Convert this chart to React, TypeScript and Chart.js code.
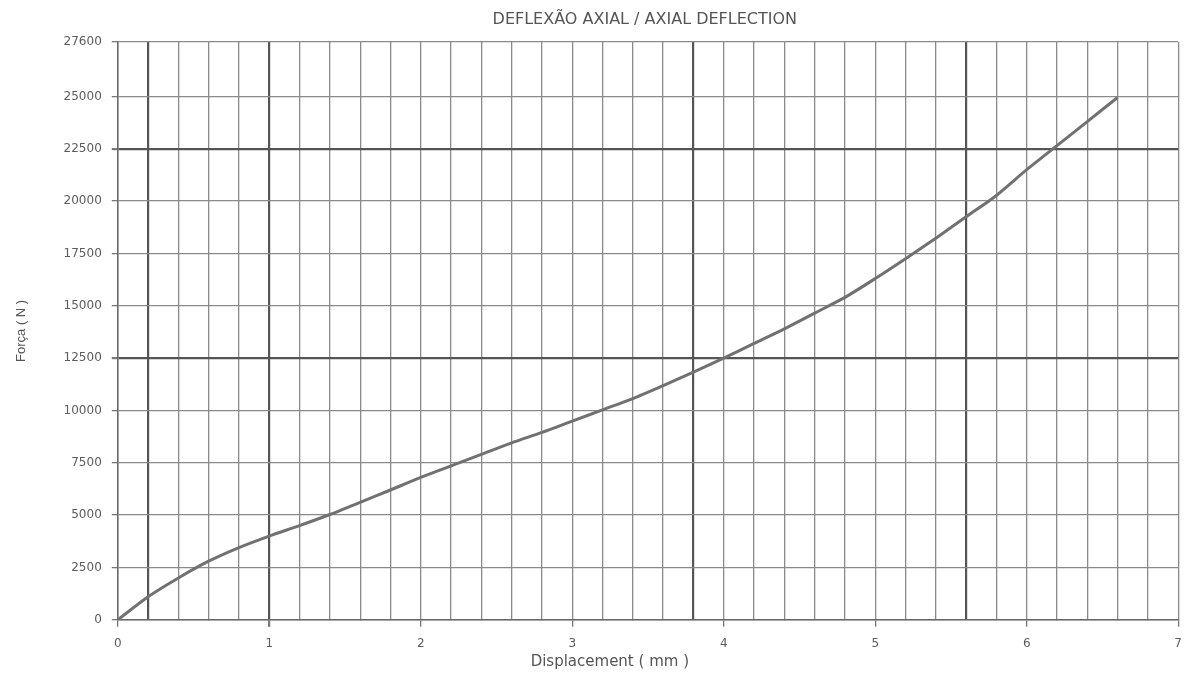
import React, { useEffect, useRef } from "react";
import { Chart, registerables } from "chart.js";

Chart.register(...registerables);

const displacement = [0, 0.2, 0.4, 0.6, 0.8, 1.0, 1.2, 1.4, 1.6, 1.8, 2.0, 2.2, 2.4, 2.6, 2.8, 3.0, 3.2, 3.4, 3.6, 3.8, 4.0, 4.2, 4.4, 4.6, 4.8, 5.0, 5.2, 5.4, 5.6, 5.8, 6.0, 6.2, 6.4, 6.6];
const force = [0, 1100, 2000, 2800, 3450, 4000, 4500, 5030, 5610, 6200, 6800, 7350, 7900, 8450, 8950, 9490, 10030, 10570, 11190, 11830, 12500, 13200, 13900, 14650, 15400, 16300, 17250, 18230, 19250, 20270, 21500, 22650, 23800, 24950];
const yTicks = [0, 2500, 5000, 7500, 10000, 12500, 15000, 17500, 20000, 22500, 25000, 27600];
const xDarkLines = [0.2, 1, 3.8, 5.6];
const yDarkLines = [12500, 22500];

const TITLE = "DEFLEXÃO AXIAL / AXIAL DEFLECTION";
const X_TITLE = "Displacement ( mm )";
const WIDE = "'DejaVu Sans', Verdana, sans-serif";
const ARIAL = "'Liberation Sans', Arial, sans-serif";

const near = (a: number, b: number) => Math.abs(a - b) < 1e-6;

const titlePlugin = {
  id: "areaTitle",
  afterDraw(chart: any) {
    const { ctx, chartArea } = chart;
    const w = chartArea.right - chartArea.left;
    ctx.save();
    ctx.fillStyle = "#555";
    ctx.textAlign = "center";
    ctx.textBaseline = "middle";
    ctx.font = `16px ${WIDE}`;
    ctx.fillText(TITLE, chartArea.left + w * 0.497, 12);
    ctx.font = `15px ${WIDE}`;
    ctx.fillText(X_TITLE, chartArea.left + w * 0.464, chart.height - 15);
    ctx.restore();
  },
};

export default function App() {
  const ref = useRef<HTMLCanvasElement | null>(null);
  useEffect(() => {
    if (!ref.current) return;
    const chart = new Chart(ref.current, {
      type: "line",
      data: {
        datasets: [
          {
            data: displacement.map((x, i) => ({ x, y: force[i] })),
            borderColor: "#717171",
            borderWidth: 3,
            pointRadius: 0,
            tension: 0.25,
            fill: false,
          },
        ],
      },
      options: {
        animation: false,
        responsive: true,
        maintainAspectRatio: false,
        layout: { padding: { top: 34, right: 12, left: 6, bottom: 0 } },
        plugins: { legend: { display: false }, tooltip: { enabled: false }, title: { display: false } },
        scales: {
          x: {
            type: "linear",
            min: 0,
            max: 7,
            border: { display: true, color: "#6a6a6a", width: 1.5 },
            grid: {
              color: (c: any) => (xDarkLines.some((v) => near(v, c.tick?.value)) ? "#555" : "#8a8a8a"),
              lineWidth: (c: any) => (xDarkLines.some((v) => near(v, c.tick?.value)) ? 2.2 : 1.3),
              tickLength: 7,
              tickColor: (c: any) => (near(c.tick?.value, Math.round(c.tick?.value)) ? "#777" : "rgba(0,0,0,0)"),
            },
            ticks: {
              stepSize: 0.2,
              autoSkip: false,
              maxRotation: 0,
              padding: 10,
              color: "#5c5c5c",
              font: { family: WIDE, size: 12 },
              callback: (v: any) => (near(v, Math.round(v)) ? String(Math.round(v)) : ""),
            },
            title: {
              display: true,
              text: " ",
              color: "rgba(0,0,0,0)",
              font: { family: WIDE, size: 14 },
              padding: { top: -6, bottom: 5 },
            },
          },
          y: {
            type: "linear",
            min: 0,
            max: 27600,
            border: { display: true, color: "#6a6a6a", width: 1.5 },
            afterBuildTicks: (axis: any) => {
              axis.ticks = yTicks.map((v) => ({ value: v }));
            },
            grid: {
              color: (c: any) => (yDarkLines.some((v) => near(v, c.tick?.value)) ? "#555" : "#8a8a8a"),
              lineWidth: (c: any) => (yDarkLines.some((v) => near(v, c.tick?.value)) ? 2.2 : 1.3),
              tickLength: 6,
              tickColor: "#777",
            },
            ticks: {
              padding: 10,
              color: "#5c5c5c",
              font: { family: WIDE, size: 12 },
              callback: (v: any) => String(v),
            },
            title: {
              display: true,
              text: "Força ( N )",
              color: "#555",
              font: { family: ARIAL, size: 13 },
              padding: { top: 0, bottom: 24 },
            },
          },
        },
      },
      plugins: [titlePlugin],
    });
    return () => chart.destroy();
  }, []);
  return (
    <div style={{ width: 1184, height: 669, position: "relative", background: "#fff" }}>
      <canvas ref={ref} />
    </div>
  );
}
